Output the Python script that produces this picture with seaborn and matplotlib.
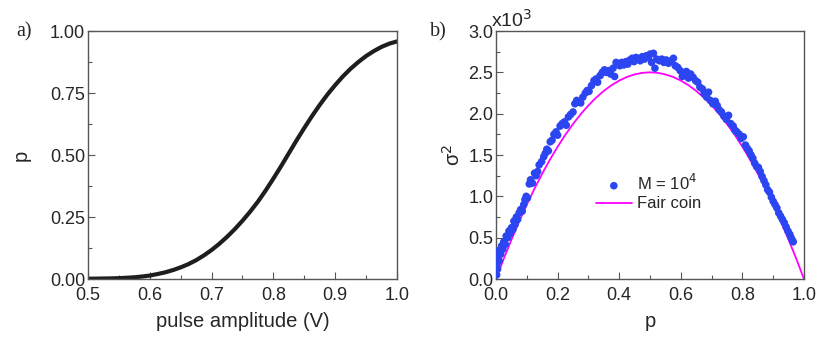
import numpy as np
import pandas as pd
import matplotlib
matplotlib.use("Agg")
import matplotlib.pyplot as plt
from matplotlib.ticker import MultipleLocator
import seaborn as sns

# panel a) switching probability vs pulse amplitude
amplitude = [0.5000, 0.5125, 0.5250, 0.5375, 0.5500, 0.5625, 0.5750, 0.5875, 0.6000, 0.6125,
             0.6250, 0.6375, 0.6500, 0.6625, 0.6750, 0.6875, 0.7000, 0.7125, 0.7250, 0.7375,
             0.7500, 0.7625, 0.7750, 0.7875, 0.8000, 0.8125, 0.8250, 0.8375, 0.8500, 0.8625,
             0.8750, 0.8875, 0.9000, 0.9125, 0.9250, 0.9375, 0.9500, 0.9625, 0.9750, 0.9875,
             1.0000]
prob = [0.0010, 0.0015, 0.0020, 0.0025, 0.0035, 0.005, 0.007, 0.010, 0.014, 0.020,
        0.027, 0.036, 0.047, 0.060, 0.076, 0.095, 0.117, 0.142, 0.170, 0.201,
        0.235, 0.272, 0.312, 0.357, 0.405, 0.455, 0.507, 0.559, 0.609, 0.657,
        0.702, 0.744, 0.782, 0.817, 0.848, 0.875, 0.899, 0.919, 0.936, 0.949,
        0.958]

# panel b) variance (x10^3) vs p, M = 10^4
p_meas = [0.002, 0.003, 0.004, 0.005, 0.006, 0.008, 0.010, 0.012, 0.015, 0.018, 0.022, 0.025,
          0.030, 0.033, 0.038, 0.042, 0.046, 0.050, 0.055, 0.058, 0.062, 0.066, 0.070, 0.075,
          0.080, 0.085, 0.090, 0.094, 0.098, 0.102, 0.108, 0.112, 0.118, 0.125, 0.130, 0.135,
          0.140, 0.148, 0.155, 0.160, 0.165, 0.170, 0.176, 0.182, 0.188, 0.195, 0.200, 0.208,
          0.215, 0.222, 0.228, 0.235, 0.242, 0.250, 0.256, 0.262, 0.268, 0.275, 0.282, 0.290,
          0.296, 0.302, 0.310, 0.318, 0.325, 0.330, 0.338, 0.345, 0.352, 0.358, 0.365, 0.372,
          0.380, 0.385, 0.390, 0.396, 0.402, 0.408, 0.415, 0.422, 0.428, 0.435, 0.442, 0.448,
          0.455, 0.462, 0.468, 0.475, 0.482, 0.488, 0.495, 0.500, 0.505, 0.511, 0.516, 0.522,
          0.530, 0.538, 0.545, 0.552, 0.560, 0.568, 0.576, 0.582, 0.590, 0.598, 0.605, 0.610,
          0.618, 0.625, 0.632, 0.640, 0.648, 0.655, 0.662, 0.670, 0.676, 0.684, 0.690, 0.696,
          0.704, 0.712, 0.718, 0.724, 0.732, 0.740, 0.748, 0.755, 0.762, 0.770, 0.776, 0.782,
          0.790, 0.796, 0.803, 0.810, 0.816, 0.822, 0.828, 0.834, 0.840, 0.846, 0.852, 0.858,
          0.864, 0.870, 0.876, 0.882, 0.888, 0.894, 0.900, 0.906, 0.912, 0.918, 0.924, 0.930,
          0.936, 0.942, 0.948, 0.954, 0.958, 0.962, 0.965]
var_meas = [0.05, 0.18, 0.30, 0.12, 0.25, 0.32, 0.22, 0.35, 0.30, 0.40, 0.36, 0.45,
            0.42, 0.52, 0.50, 0.58, 0.55, 0.62, 0.60, 0.70, 0.66, 0.75, 0.72, 0.80,
            0.84, 0.82, 0.90, 0.96, 1.00, 0.98, 1.15, 1.20, 1.16, 1.28, 1.25, 1.30,
            1.38, 1.42, 1.48, 1.52, 1.57, 1.55, 1.66, 1.68, 1.75, 1.78, 1.74, 1.85,
            1.88, 1.90, 1.86, 1.96, 1.99, 2.02, 2.12, 2.16, 2.14, 2.13, 2.20, 2.25,
            2.28, 2.27, 2.34, 2.40, 2.42, 2.38, 2.46, 2.50, 2.53, 2.50, 2.52, 2.48,
            2.55, 2.45, 2.62, 2.60, 2.58, 2.62, 2.59, 2.63, 2.60, 2.65, 2.67, 2.63,
            2.68, 2.66, 2.64, 2.69, 2.66, 2.70, 2.68, 2.72, 2.62, 2.73, 2.55, 2.66,
            2.64, 2.66, 2.62, 2.65, 2.61, 2.64, 2.67, 2.58, 2.56, 2.52, 2.45, 2.49,
            2.51, 2.43, 2.48, 2.44, 2.40, 2.38, 2.32, 2.30, 2.24, 2.20, 2.26, 2.16,
            2.12, 2.15, 2.10, 2.05, 2.02, 1.97, 1.93, 1.98, 1.88, 1.85, 1.80, 1.78,
            1.75, 1.70, 1.72, 1.62, 1.58, 1.55, 1.50, 1.46, 1.40, 1.36, 1.35, 1.30,
            1.24, 1.19, 1.14, 1.08, 1.05, 0.99, 0.94, 0.90, 0.86, 0.80, 0.76, 0.72,
            0.68, 0.63, 0.58, 0.54, 0.50, 0.47, 0.45]

# fair coin reference (x10^3)
p_fair = [0.000, 0.025, 0.050, 0.075, 0.100, 0.125, 0.150, 0.175, 0.200, 0.225,
          0.250, 0.275, 0.300, 0.325, 0.350, 0.375, 0.400, 0.425, 0.450, 0.475,
          0.500, 0.525, 0.550, 0.575, 0.600, 0.625, 0.650, 0.675, 0.700, 0.725,
          0.750, 0.775, 0.800, 0.825, 0.850, 0.875, 0.900, 0.925, 0.950, 0.975, 1.000]
var_fair = [0.000, 0.244, 0.475, 0.694, 0.900, 1.094, 1.275, 1.444, 1.600, 1.744,
            1.875, 1.994, 2.100, 2.194, 2.275, 2.344, 2.400, 2.444, 2.475, 2.494,
            2.500, 2.494, 2.475, 2.444, 2.400, 2.344, 2.275, 2.194, 2.100, 1.994,
            1.875, 1.744, 1.600, 1.444, 1.275, 1.094, 0.900, 0.694, 0.475, 0.244, 0.000]

sns.set_theme(style="ticks")
plt.rcParams['font.family'] = ['Liberation Sans', 'DejaVu Sans']
plt.rcParams['axes.edgecolor'] = '#555555'
plt.rcParams['axes.linewidth'] = 1.0
plt.rcParams['xtick.direction'] = 'in'
plt.rcParams['ytick.direction'] = 'in'

fig = plt.figure(figsize=(8.31, 3.46), dpi=100)
ax1 = fig.add_axes([0.1059, 0.1936, 0.3718, 0.7168])
ax2 = fig.add_axes([0.5969, 0.1936, 0.3706, 0.7168])

df_a = pd.DataFrame({'amp': amplitude, 'p': prob})
sns.lineplot(data=df_a, x='amp', y='p', ax=ax1, color='#1e1e1e', linewidth=3)
ax1.set_xlim(0.5, 1.0)
ax1.set_ylim(0, 1.0)
ax1.xaxis.set_major_locator(MultipleLocator(0.1))
ax1.xaxis.set_minor_locator(MultipleLocator(0.05))
ax1.yaxis.set_major_locator(MultipleLocator(0.25))
ax1.yaxis.set_minor_locator(MultipleLocator(0.125))
ax1.xaxis.set_major_formatter(plt.FormatStrFormatter('%.1f'))
ax1.yaxis.set_major_formatter(plt.FormatStrFormatter('%.2f'))
ax1.set_xlabel('pulse amplitude (V)', fontsize=14.5, labelpad=6)
ax1.set_ylabel('p', fontsize=14.5, labelpad=14)

df_b = pd.DataFrame({'p': p_meas, 'var': var_meas})
df_f = pd.DataFrame({'p': p_fair, 'var': var_fair})
sns.lineplot(data=df_f, x='p', y='var', ax=ax2, color='#ff00ff', linewidth=1.3,
             label='Fair coin', zorder=2)
sns.scatterplot(data=df_b, x='p', y='var', ax=ax2, color='#2b45f0', s=30,
                edgecolor='none', label='M = 10$^4$', zorder=3)
ax2.set_xlim(0, 1.0)
ax2.set_ylim(0, 3.0)
ax2.xaxis.set_major_locator(MultipleLocator(0.2))
ax2.xaxis.set_minor_locator(MultipleLocator(0.1))
ax2.yaxis.set_major_locator(MultipleLocator(0.5))
ax2.yaxis.set_minor_locator(MultipleLocator(0.25))
ax2.xaxis.set_major_formatter(plt.FormatStrFormatter('%.1f'))
ax2.yaxis.set_major_formatter(plt.FormatStrFormatter('%.1f'))
ax2.set_xlabel('p', fontsize=14.5, labelpad=6)
ax2.set_ylabel('σ$^2$', fontsize=14.5, labelpad=3)
ax2.text(-0.015, 1.0, 'x10$^3$', transform=ax2.transAxes, fontsize=14,
         ha='left', va='bottom')

handles, labels = ax2.get_legend_handles_labels()
order = [labels.index('M = 10$^4$'), labels.index('Fair coin')]
ax2.legend([handles[i] for i in order], [labels[i] for i in order],
           loc='center', bbox_to_anchor=(0.495, 0.35), frameon=False,
           fontsize=12, handlelength=2.2, handletextpad=0.3, labelspacing=0.2)

for ax in (ax1, ax2):
    ax.tick_params(axis='both', which='major', length=5, width=0.8, color='#555555',
                   labelsize=13)
    ax.tick_params(axis='x', which='major', pad=5.5)
    ax.tick_params(axis='y', which='major', pad=2)
    ax.tick_params(axis='both', which='minor', length=3, width=0.8, color='#555555')

fig.text(0.020, 0.895, 'a)', fontsize=14.5, family=['Liberation Serif', 'DejaVu Serif'])
fig.text(0.518, 0.895, 'b)', fontsize=14.5, family=['Liberation Serif', 'DejaVu Serif'])

fig.savefig('out.png', dpi=100)
